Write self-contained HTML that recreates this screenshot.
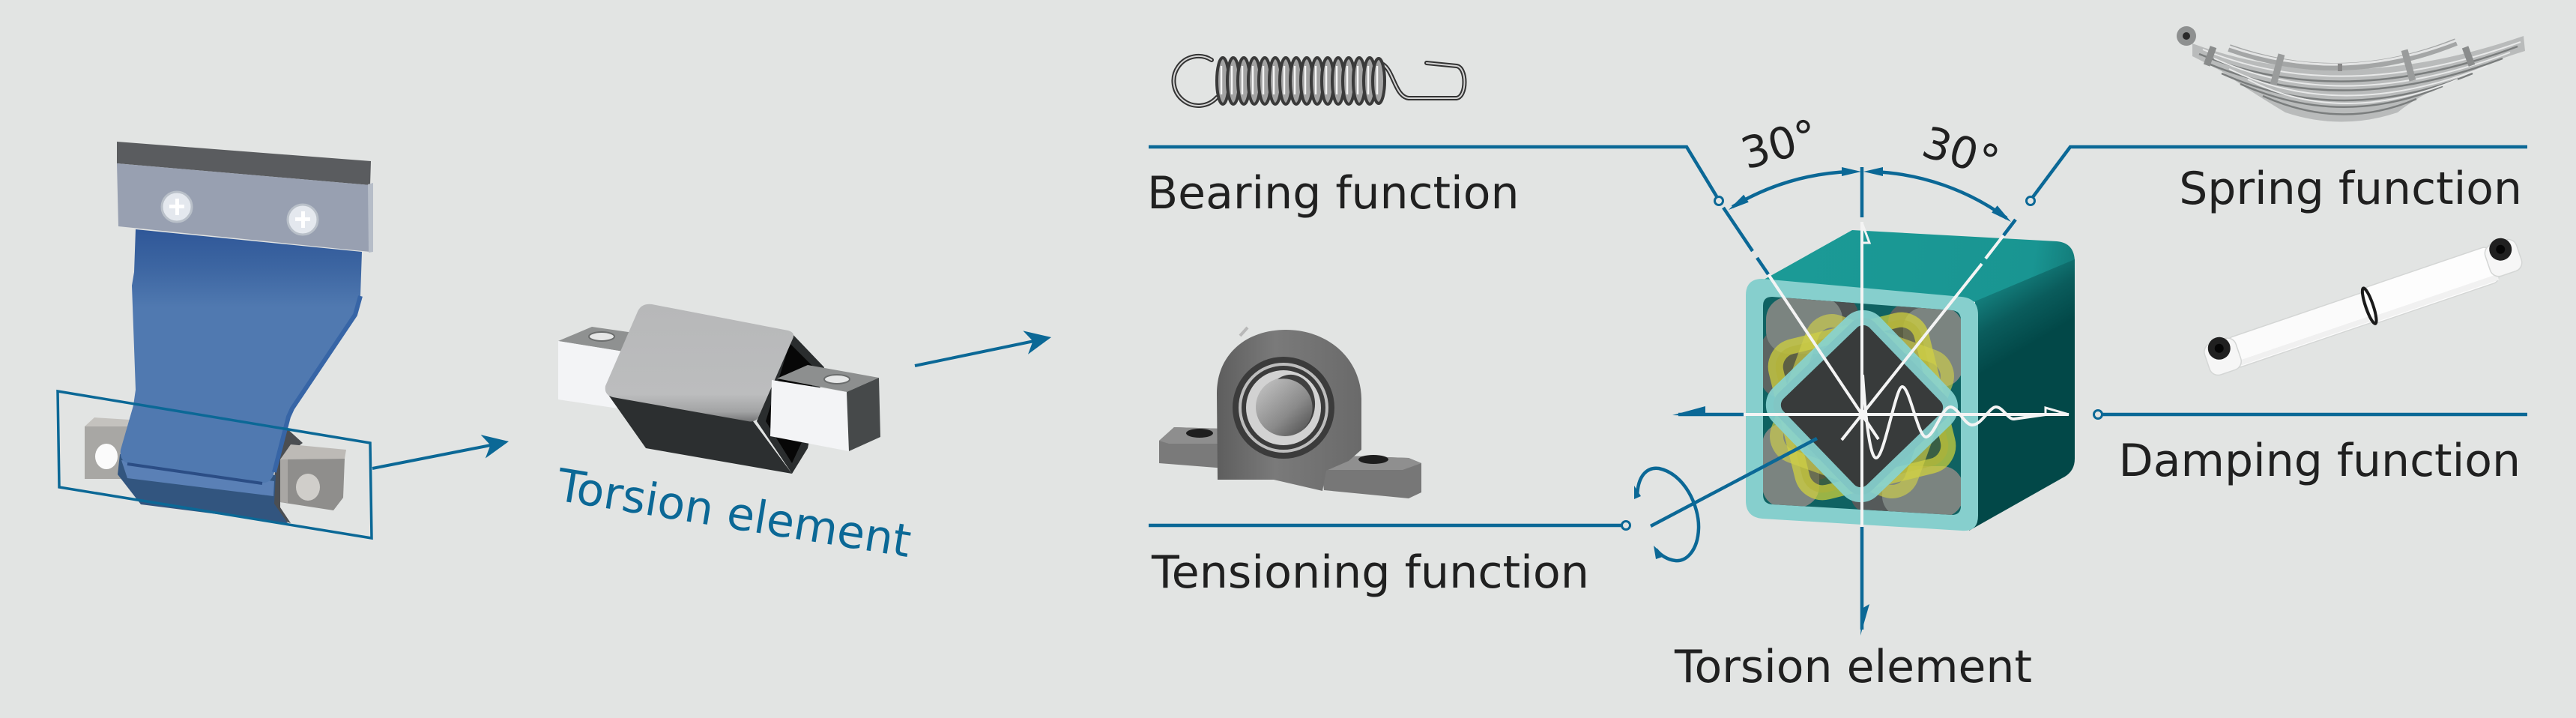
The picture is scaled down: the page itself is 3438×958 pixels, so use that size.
<!DOCTYPE html>
<html>
<head>
<meta charset="utf-8">
<style>
html,body{margin:0;padding:0;background:#e2e4e3;}
body{width:3438px;height:958px;overflow:hidden;}
svg{display:block;}
.lbl{font-family:"DejaVu Sans","Liberation Sans",sans-serif;font-size:60px;fill:#202020;}
</style>
</head>
<body>
<svg xmlns="http://www.w3.org/2000/svg" width="3438" height="958" viewBox="0 0 3438 958">
<defs>
  <linearGradient id="bg1" x1="0" y1="306" x2="0" y2="410" gradientUnits="userSpaceOnUse">
    <stop offset="0" stop-color="#2f5798"/>
    <stop offset="0.5" stop-color="#3d66a2"/>
    <stop offset="1" stop-color="#5079b0"/>
  </linearGradient>
  <linearGradient id="sleeve" x1="0" y1="410" x2="0" y2="565" gradientUnits="userSpaceOnUse">
    <stop offset="0" stop-color="#b7b8b9"/>
    <stop offset="0.75" stop-color="#bcbdbe"/>
    <stop offset="0.9" stop-color="#a2a3a4"/>
    <stop offset="1" stop-color="#6d6e6f"/>
  </linearGradient>
  <linearGradient id="rface" x1="2700" y1="330" x2="2760" y2="430" gradientUnits="userSpaceOnUse">
    <stop offset="0" stop-color="#1a9592"/>
    <stop offset="0.6" stop-color="#0a5c5c"/>
    <stop offset="1" stop-color="#024848"/>
  </linearGradient>
  <linearGradient id="tface" x1="2400" y1="300" x2="2769" y2="360" gradientUnits="userSpaceOnUse">
    <stop offset="0" stop-color="#1b9a96"/>
    <stop offset="0.85" stop-color="#199592"/>
    <stop offset="1" stop-color="#137c7a"/>
  </linearGradient>
  <linearGradient id="bore" x1="1680" y1="510" x2="1745" y2="580" gradientUnits="userSpaceOnUse">
    <stop offset="0" stop-color="#c2c2c2"/>
    <stop offset="0.6" stop-color="#8a8a8a"/>
    <stop offset="1" stop-color="#505050"/>
  </linearGradient>
  <linearGradient id="house" x1="1625" y1="0" x2="1817" y2="0" gradientUnits="userSpaceOnUse">
    <stop offset="0" stop-color="#5e5e5e"/>
    <stop offset="0.4" stop-color="#7a7a7a"/>
    <stop offset="1" stop-color="#6a6a6a"/>
  </linearGradient>
  <clipPath id="inner">
    <path d="M2365,396 L2605,414 Q2617,415 2617,427 L2617,675 Q2617,687 2605,687 L2365,673 Q2353,672 2353,660 L2353,408 Q2353,396 2365,396 Z"/>
  </clipPath>
</defs>

<rect width="3438" height="958" fill="#e2e4e3"/>

<!-- ================= BRACKET ================= -->
<polygon points="113,569 126,557 173,560 171,570" fill="#c4c2be"/>
<rect x="113" y="569" width="58" height="70" fill="#a8a7a4"/>
<ellipse cx="142" cy="609" rx="15" ry="17" fill="#fbfbfb"/>
<polygon points="370,560 404,591 374,613 374,677 388,698 364,690" fill="#4b4e52"/>
<!-- fold (under main face) -->
<path d="M160,606 L368,634 L366,672 L384,698 L188,673 L157,633 Z" fill="#32557f"/>
<path d="M162,614 L366,642 L365,662 L170,638 Z" fill="#5a80b6"/>
<!-- blue main face -->
<path d="M181,306 L483,336 L481,395 L474,420 L390,545 L385,556 L366,630 Q362,646 348,644 L172,619 Q159,615 161,600 L178,541 L181,520 L176,381 L179,363 Z" fill="url(#bg1)"/>
<path d="M481,395 L474,420 L390,545 L385,556 L366,630" stroke="#3765a6" stroke-width="6" fill="none"/>
<path d="M170,619 L350,645" stroke="#2b4d85" stroke-width="4" fill="none"/>
<!-- right grey block -->
<polygon points="388,593 462,600 460,612 374,613" fill="#bdbab6"/>
<polygon points="374,613 460,612 458,664 445,681 374,670" fill="#8f8e8c"/>
<polygon points="374,613 384,613 384,671 374,670" fill="#a9a7a4"/>
<ellipse cx="411" cy="650" rx="16" ry="18" fill="#d0ceca"/>
<!-- top plate -->
<polygon points="156,189 495,215 494,247 156,218" fill="#5a5c5f"/>
<polygon points="156,218 494,247 494,336 158,302" fill="#98a0b1"/>
<polygon points="491,246 498,244 498,336 492,337" fill="#b6bdc8"/>
<circle cx="236" cy="276" r="20" fill="#e4e8ee" stroke="#b9c0c9" stroke-width="3"/>
<rect x="226" y="273" width="20" height="5" fill="#ffffff"/>
<rect x="234" y="265" width="5" height="22" fill="#ffffff"/>
<circle cx="404" cy="293" r="20" fill="#e4e8ee" stroke="#b9c0c9" stroke-width="3"/>
<rect x="394" y="290" width="20" height="5" fill="#ffffff"/>
<rect x="402" y="282" width="5" height="22" fill="#ffffff"/>
<!-- selection parallelogram -->
<polygon points="77,522 494,591 496,718 79,650" fill="none" stroke="#0b6896" stroke-width="3.5"/>
<!-- arrow 1 -->
<line x1="497" y1="625" x2="660" y2="593" stroke="#0b6896" stroke-width="4"/>
<polygon points="679,589 647.8,611.5 654.5,593.9 641.6,580.1" fill="#0b6896"/>

<!-- ================= TORSION ELEMENT OBJECT ================= -->
<polygon points="745,455 790,436 880,449 838,470" fill="#8f9191"/>
<ellipse cx="803" cy="449" rx="17" ry="6" fill="#e6e7e7" stroke="#6b6d6d" stroke-width="2"/>
<polygon points="745,455 838,470 838,547 745,533" fill="#f3f4f6"/>
<polygon points="812,527 1005,562 1057,632 862,598" fill="#2c2f30"/>
<polygon points="1056,444 1100,490 1078,598 1057,632 1010,562" fill="#2a2d2e"/>
<polygon points="1054,458 1088,492 1070,590 1057,618 1022,562" fill="#070707"/>
<path d="M870,406 L1052,441 Q1062,444 1058,452 L1012,557 Q1008,564 998,562 L818,530 Q806,527 808,515 L850,418 Q855,404 870,406 Z" fill="url(#sleeve)"/>
<polygon points="1037,505 1078,487 1173,504 1130,523" fill="#8d8f8f"/>
<ellipse cx="1117" cy="506" rx="17" ry="6" fill="#e6e7e7" stroke="#6b6d6d" stroke-width="2"/>
<polygon points="1030,507 1130,523 1133,602 1028,582" fill="#f3f4f6"/>
<polygon points="1130,523 1173,504 1175,583 1133,602" fill="#46494a"/>

<text x="741" y="667" transform="rotate(9.2 741 667)" style="font-family:'DejaVu Sans','Liberation Sans',sans-serif;font-size:60px;fill:#0b6896;">Torsion element</text>

<!-- arrow 2 -->
<line x1="1221" y1="488" x2="1385" y2="454" stroke="#0b6896" stroke-width="4"/>
<polygon points="1403,450 1372,472.8 1378.5,455.1 1365.4,441.4" fill="#0b6896"/>

<!-- ================= EXTENSION SPRING ================= -->
<g fill="none" stroke-linecap="round">
  <path d="M1617,80 A33,33 0 1 0 1624,130" stroke="#333" stroke-width="6"/>
  <path d="M1617,80 A33,33 0 1 0 1624,130" stroke="#d5d5d5" stroke-width="2"/>
  <path d="M1846,86 C1860,95 1862,129 1880,131 L1944,131 C1958,129 1958,90 1944,88 L1904,84" stroke="#333" stroke-width="6"/>
  <path d="M1846,86 C1860,95 1862,129 1880,131 L1944,131 C1958,129 1958,90 1944,88 L1904,84" stroke="#d5d5d5" stroke-width="2"/>
</g>
<g fill="#a3a3a3" stroke="#3a3a3a" stroke-width="4">
  <ellipse cx="1632" cy="108" rx="8" ry="31"/>
  <ellipse cx="1646" cy="108" rx="8" ry="31"/>
  <ellipse cx="1660" cy="108" rx="8" ry="31"/>
  <ellipse cx="1674" cy="108" rx="8" ry="31"/>
  <ellipse cx="1688" cy="108" rx="8" ry="31"/>
  <ellipse cx="1702" cy="108" rx="8" ry="31"/>
  <ellipse cx="1716" cy="108" rx="8" ry="31"/>
  <ellipse cx="1730" cy="108" rx="8" ry="31"/>
  <ellipse cx="1744" cy="108" rx="8" ry="31"/>
  <ellipse cx="1758" cy="108" rx="8" ry="31"/>
  <ellipse cx="1772" cy="108" rx="8" ry="31"/>
  <ellipse cx="1786" cy="108" rx="8" ry="31"/>
  <ellipse cx="1800" cy="108" rx="8" ry="31"/>
  <ellipse cx="1814" cy="108" rx="8" ry="31"/>
  <ellipse cx="1828" cy="108" rx="8" ry="31"/>
  <ellipse cx="1840" cy="108" rx="8" ry="30"/>
</g>
<g stroke="#f4f4f4" stroke-width="2.5" fill="none">
  <path d="M1630,88 L1630,126 M1644,88 L1644,126 M1658,88 L1658,126 M1672,88 L1672,126 M1686,88 L1686,126 M1700,88 L1700,126 M1714,88 L1714,126 M1728,88 L1728,126 M1742,88 L1742,126 M1756,88 L1756,126 M1770,88 L1770,126 M1784,88 L1784,126 M1798,88 L1798,126 M1812,88 L1812,126 M1826,88 L1826,126 M1838,88 L1838,126"/>
</g>

<!-- ================= PILLOW BLOCK BEARING ================= -->
<polygon points="1547,588 1567,570 1632,572 1640,600 1636,625 1547,618" fill="#7a7a7a"/>
<polygon points="1547,588 1567,570 1632,572 1640,592 1560,592" fill="#8e8e8e"/>
<ellipse cx="1601" cy="578" rx="18" ry="6" fill="#1e1e1e"/>
<polygon points="1763,620 1793,608 1880,611 1897,618 1897,657 1880,665 1767,654" fill="#777777"/>
<polygon points="1763,620 1793,608 1880,611 1897,618 1872,627 1768,627" fill="#8f8f8f"/>
<ellipse cx="1833" cy="613" rx="20" ry="6" fill="#1e1e1e"/>
<path d="M1625,640 L1624,525 C1624,472 1664,440 1716,440 C1772,440 1816,478 1817,532 L1817,600 L1800,615 L1770,628 L1765,655 L1700,640 Z" fill="url(#house)"/>
<circle cx="1713" cy="544" r="68" fill="#3b3b3b"/>
<circle cx="1713" cy="544" r="58" fill="none" stroke="#bdbdbd" stroke-width="4"/>
<circle cx="1713" cy="544" r="50" fill="#d2d2d2"/>
<circle cx="1715" cy="543" r="39" fill="url(#bore)"/>
<path d="M1705,506 A39,39 0 0 1 1740,572 A30,36 0 0 0 1705,506 Z" fill="#404040"/>
<line x1="1655" y1="448" x2="1665" y2="437" stroke="#b8b8b8" stroke-width="4"/>

<!-- ================= LEAF SPRING ================= -->
<g>
  <path d="M2926,58 Q3125,132 3368,48 L3370,68 Q3330,80 3300,95 Q3230,125 3200,150 Q3125,175 3050,150 Q3000,120 2965,95 Q2940,82 2926,75 Z" fill="#b9bbbb"/>
  <path d="M2935,72 Q3125,150 3360,62 M2945,84 Q3125,160 3340,78 M2965,98 Q3125,170 3300,98 M2990,112 Q3125,172 3260,115 M3020,128 Q3125,175 3225,132" stroke="#7a7d7d" stroke-width="2.5" fill="none"/>
  <path d="M2940,66 Q3125,142 3364,56 M2955,78 Q3125,155 3350,70 M2975,92 Q3125,165 3320,88 M3000,106 Q3125,170 3280,106" stroke="#e8e9e9" stroke-width="2" fill="none"/>
  <path d="M2975,64 Q3125,118 3278,56" stroke="#a4a6a6" stroke-width="10" fill="none"/>
  <path d="M2975,62 Q3125,114 3278,54" stroke="#e3e4e4" stroke-width="3" fill="none"/>
  <circle cx="2918" cy="48" r="13" fill="#8e9090"/>
  <circle cx="2918" cy="48" r="5" fill="#2a2a2a"/>
  <rect x="2945" y="62" width="9" height="26" fill="#8a8c8c" transform="rotate(20 2950 75)"/>
  <rect x="3035" y="72" width="9" height="42" fill="#9a9c9c" transform="rotate(15 3040 93)"/>
  <rect x="3210" y="66" width="9" height="42" fill="#9a9c9c" transform="rotate(-15 3215 87)"/>
  <rect x="3290" y="62" width="9" height="26" fill="#8a8c8c" transform="rotate(-20 3295 75)"/>
  <rect x="3120" y="85" width="6" height="10" fill="#888"/>
</g>

<!-- ================= SHOCK ABSORBER ================= -->
<g transform="rotate(-18.8 3154 412)">
  <rect x="2968" y="391" width="200" height="42" rx="8" fill="#fbfbfb" stroke="#d4d6d5" stroke-width="1.5"/>
  <rect x="2970" y="424" width="196" height="7" fill="#f0f0f0"/>
  <rect x="3160" y="386" width="180" height="50" rx="10" fill="#fdfdfd" stroke="#d4d6d5" stroke-width="1.5"/>
  <rect x="3162" y="426" width="176" height="8" fill="#f1f1f1"/>
  <ellipse cx="3163" cy="411" rx="5" ry="25" fill="none" stroke="#1a1a1a" stroke-width="4"/>
  <rect x="2934" y="390" width="44" height="44" rx="12" fill="#f6f6f6" stroke="#d4d6d5" stroke-width="1.5"/>
  <circle cx="2955" cy="400" r="15" fill="#202020"/>
  <circle cx="2955" cy="400" r="6" fill="#050505"/>
  <rect x="3331" y="386" width="44" height="44" rx="12" fill="#f6f6f6" stroke="#d4d6d5" stroke-width="1.5"/>
  <circle cx="3353" cy="396" r="15" fill="#202020"/>
  <circle cx="3353" cy="396" r="6" fill="#050505"/>
</g>

<!-- ================= TEAL BOX ================= -->
<path d="M2338,382 L2472,307 L2745,322 Q2769,324 2769,350 L2640,404 L2610,396 Z" fill="url(#tface)"/>
<path d="M2636,402 L2769,346 L2769,612 Q2769,630 2752,638 L2628,708 L2636,690 Z" fill="url(#rface)"/>
<path d="M2352,372 L2618,396 Q2640,398 2640,420 L2640,688 Q2640,710 2618,708 L2352,692 Q2330,690 2330,668 L2330,394 Q2330,372 2352,372 Z" fill="#86cfcd"/>
<g clip-path="url(#inner)">
  <rect x="2340" y="380" width="300" height="320" fill="#0f6262"/>
  <rect x="2400" y="395" width="80" height="60" rx="25" fill="#4d5252"/>
  <rect x="2350" y="440" width="70" height="90" rx="25" fill="#5d6462"/>
  <rect x="2357" y="396" width="102" height="76" rx="30" fill="#7b8480"/>
  <rect x="2520" y="405" width="60" height="70" rx="25" fill="#5a6160"/>
  <rect x="2540" y="410" width="80" height="106" rx="28" fill="#7b8480"/>
  <rect x="2380" y="560" width="70" height="80" rx="25" fill="#4d5252"/>
  <rect x="2352" y="565" width="76" height="112" rx="28" fill="#7b8480"/>
  <rect x="2470" y="615" width="70" height="70" rx="25" fill="#555a5a"/>
  <rect x="2512" y="622" width="108" height="68" rx="28" fill="#7b8480"/>
  <rect x="2385" y="442" width="200" height="200" rx="28" fill="#5d5d2c" fill-opacity="0.55" stroke="#d6d63a" stroke-opacity="0.7" stroke-width="20" transform="rotate(-14 2485 542)"/>
  <rect x="2390" y="447" width="190" height="190" rx="28" fill="none" stroke="#cfd04a" stroke-opacity="0.65" stroke-width="18" transform="rotate(20 2485 542)"/>
  <rect x="2395" y="452" width="180" height="180" rx="22" fill="#383b3b" transform="rotate(46 2485 542)"/>
  <rect x="2395" y="452" width="180" height="180" rx="22" fill="none" stroke="#88d2d0" stroke-opacity="0.92" stroke-width="20" transform="rotate(46 2485 542)"/>
</g>

<!-- ================= WHITE OVERLAY LINES ================= -->
<g stroke="#f4f4f4" stroke-width="4" fill="none" stroke-linecap="butt">
  <line x1="2485" y1="296" x2="2485" y2="703"/>
  <polygon points="2485,297 2495,324 2485,324" stroke-width="3"/>
  <line x1="2327" y1="553" x2="2761" y2="553"/>
  <polygon points="2761,553 2730,544 2730,553" stroke-width="3"/>
  <line x1="2360" y1="366" x2="2507" y2="586"/>
  <line x1="2674" y1="314" x2="2650" y2="345"/>
  <line x1="2645" y1="352" x2="2458" y2="587"/>
  <path d="M2486,500 C2490,560 2496,612 2504,611 C2515,610 2530,515 2539,516 C2549,517 2560,585 2571,583 C2582,581 2592,543 2603,543 C2613,543 2622,567 2632,567 C2645,567 2655,543 2664,543 C2673,543 2680,560 2688,559 L2730,553"/>
</g>

<!-- ================= BLUE ANNOTATIONS ================= -->
<g stroke="#0b6896" stroke-width="4.5" fill="none">
  <path d="M1533,196 L2251,196 L2291,262"/>
  <path d="M3373,196 L2763,196 L2713,263"/>
  <path d="M2806,553 L3373,553"/>
  <path d="M1533,701 L2164,701"/>
  <line x1="2485" y1="223" x2="2485" y2="290"/>
  <line x1="2485" y1="703" x2="2485" y2="840"/>
  <line x1="2240" y1="553" x2="2327" y2="553"/>
  <line x1="2300" y1="277" x2="2339" y2="335"/>
  <line x1="2345" y1="344" x2="2360" y2="366"/>
  <line x1="2690" y1="293" x2="2674" y2="314"/>
  <path d="M2312,276 A325,325 0 0 1 2470,229"/>
  <path d="M2500,229 A325,325 0 0 1 2678,291"/>
  <line x1="2203" y1="702" x2="2425" y2="585"/>
  <path d="M2185,662 C2186,632 2200,623 2214,625 C2248,632 2268,675 2267,705 C2266,735 2250,750 2236,748 C2226,747 2216,741 2210,733"/>
</g>
<g fill="#0b6896">
  <polygon points="2307,280 2333.8,269.7 2327.2,259.7"/>
  <polygon points="2484,229 2458,235 2458,223"/>
  <polygon points="2487,229 2513,223 2513,235"/>
  <polygon points="2684,296 2658.2,283.6 2665.6,274.2"/>
  <polygon points="2483,848 2495,806 2485,812"/>
  <polygon points="2232,554 2276,542 2276,555"/>
  <polygon points="2181,648 2190,662 2181,666"/>
  <polygon points="2207,728 2222,742 2210,746"/>
</g>
<g fill="#e2e4e3" stroke="#0b6896" stroke-width="3">
  <circle cx="2294" cy="268" r="5.5"/>
  <circle cx="2710" cy="268" r="5.5"/>
  <circle cx="2800" cy="553" r="5.5"/>
  <circle cx="2170" cy="701" r="5.5"/>
</g>

<!-- ================= LABELS ================= -->
<text class="lbl" x="1531" y="278">Bearing function</text>
<text class="lbl" x="1537" y="784" textLength="584" lengthAdjust="spacingAndGlyphs">Tensioning function</text>
<text class="lbl" x="3366" y="272" text-anchor="end">Spring function</text>
<text class="lbl" x="3364" y="635" text-anchor="end">Damping function</text>
<text class="lbl" x="2235" y="910">Torsion element</text>
<text class="lbl" x="2331" y="226" style="font-size:58px" transform="rotate(-16 2331 226)">30°</text>
<text class="lbl" x="2562" y="207" style="font-size:58px" transform="rotate(17 2562 207)">30°</text>
</svg>
</body>
</html>
